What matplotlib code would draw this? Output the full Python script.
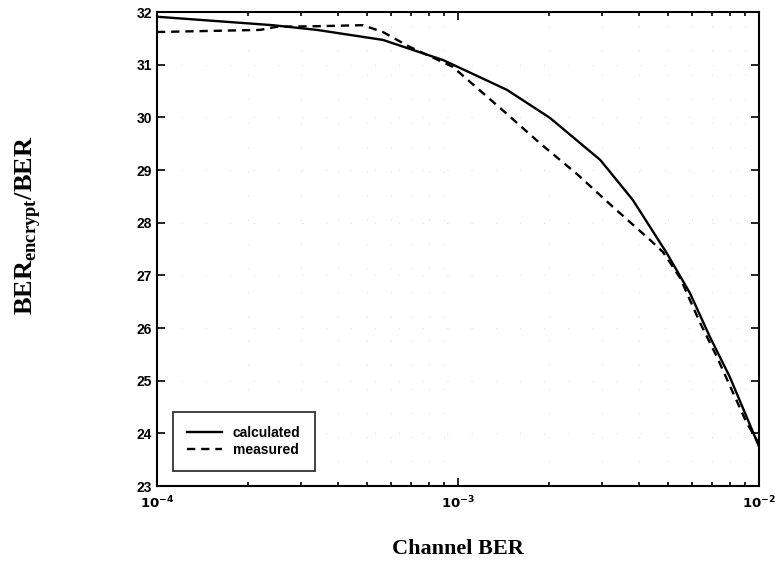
import matplotlib
matplotlib.use("Agg")
import matplotlib.pyplot as plt
import numpy as np

# data
calc_x = [1e-4, 2.42e-4, 3.4e-4, 5.63e-4, 8.9e-4, 1.28e-3, 1.456e-3, 2.02e-3, 2.97e-3,
          3.81e-3, 4.94e-3, 5.9e-3, 6.87e-3, 8.0e-3, 9.1e-3, 1e-2]
calc_y = [31.91, 31.75, 31.66, 31.47, 31.09, 30.67, 30.52, 29.99, 29.19,
          28.43, 27.42, 26.66, 25.83, 25.07, 24.31, 23.75]
meas_x = [1e-4, 2.2e-4, 2.5e-4, 3.4e-4, 4.83e-4, 5.63e-4, 6.9e-4, 9.6e-4, 1.43e-3, 1.87e-3,
          2.5e-3, 3.27e-3, 4.35e-3, 4.8e-3, 5.47e-3, 6.37e-3, 7.25e-3, 8.2e-3, 9.1e-3, 1e-2]
meas_y = [31.62, 31.66, 31.72, 31.73, 31.75, 31.62, 31.34, 30.96, 30.10, 29.51,
          28.91, 28.30, 27.67, 27.44, 26.95, 26.10, 25.45, 24.77, 24.2, 23.8]
xticks = [1e-4, 1e-3, 1e-2]
xticklabels = [r"$\mathbf{10^{-4}}$", r"$\mathbf{10^{-3}}$", r"$\mathbf{10^{-2}}$"]
yticks = [23, 24, 25, 26, 27, 28, 29, 30, 31, 32]

fig = plt.figure(figsize=(7.75, 5.69), dpi=100)
ax = fig.add_axes([157/775, 1-486/569, (759-157)/775, (486-12)/569])

ax.plot(calc_x, calc_y, color='black', lw=1.7, ls='-', label='calculated')
ax.plot(meas_x, meas_y, color='black', lw=1.7, ls=(0, (3.5, 2.5)), label='measured')

ax.set_xscale('log')
ax.set_xlim(1e-4, 1e-2)
ax.set_ylim(23, 32)
ax.set_xticks(xticks)
ax.set_xticklabels(xticklabels)
ax.set_yticks(yticks)
ax.grid(True, which='major', axis='y', color='0.8', ls=(0, (1, 28)), lw=0.6)
ax.grid(True, which='minor', axis='x', color='0.8', ls=(0, (1, 28)), lw=0.6)

for s in ax.spines.values():
    s.set_linewidth(1.5)
ax.tick_params(which='both', direction='in', top=True, right=True, width=1.2)
ax.tick_params(which='major', length=6, labelsize=10)
ax.tick_params(which='minor', length=3)
for lab in ax.get_yticklabels():
    lab.set_fontfamily('Liberation Sans')
    lab.set_fontweight('bold')
ax.tick_params(axis='x', pad=6, labelsize=9.5)

ax.set_xlabel('Channel BER', family='Liberation Serif', fontsize=16, fontweight='bold')
ax.xaxis.set_label_coords(0.5, -0.112)
ax.set_ylabel(r'BER$_{\mathregular{encrypt}}$/BER', family='Liberation Serif', fontsize=19,
              fontweight='bold')
ax.yaxis.set_label_coords(-0.189, 0.55)

leg = ax.legend(loc='lower left', bbox_to_anchor=(0.027, 0.032), frameon=True, fancybox=False,
                edgecolor='black', prop={'family': 'Liberation Sans', 'weight': 'bold', 'size': 10},
                handlelength=2.5, borderpad=1.0, labelspacing=0.2, borderaxespad=0)
leg.get_frame().set_linewidth(1.3)

fig.savefig('out.png', dpi=100)
